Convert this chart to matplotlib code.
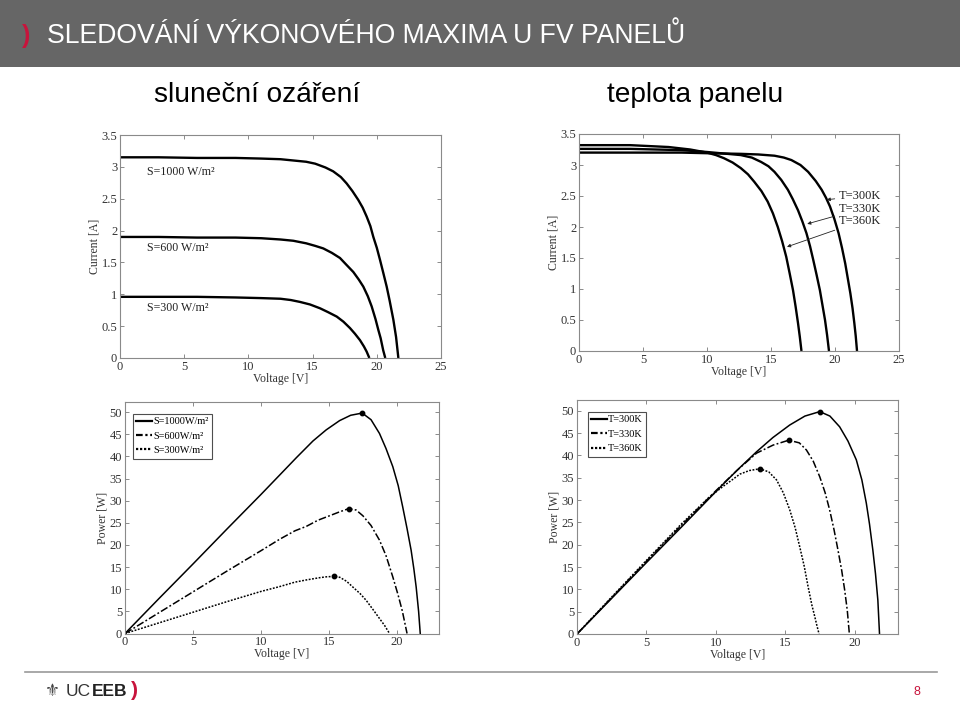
import numpy as np
import matplotlib
matplotlib.use('Agg')
import matplotlib.pyplot as plt
from matplotlib.patches import Rectangle
from matplotlib.lines import Line2D
from matplotlib.ticker import FuncFormatter, MultipleLocator

# ---------------- data ----------------
# I-V curves for different irradiance
V_s1000 = [0, 3, 6, 9, 11, 12.5, 13.5, 14.5, 15.2, 16.0, 16.6, 17.2, 17.65, 18.1, 18.56, 18.9,
           19.21, 19.5, 19.73, 20.0, 20.25, 20.5, 20.77, 21.0, 21.29, 21.5, 21.68]
I_s1000 = [3.15, 3.15, 3.14, 3.14, 3.13, 3.12, 3.10, 3.08, 3.05, 2.99, 2.93, 2.84, 2.74, 2.62, 2.48, 2.36,
           2.22, 2.07, 1.90, 1.73, 1.54, 1.34, 1.12, 0.90, 0.60, 0.33, 0.0]
V_s600 = [0, 3, 6, 9, 11, 12.5, 13.5, 14.5, 15.2, 15.83, 16.5, 17.13, 17.6, 18.17, 18.6, 18.95,
          19.3, 19.6, 19.9, 20.12, 20.3, 20.5, 20.66]
I_s600 = [1.90, 1.90, 1.89, 1.89, 1.88, 1.86, 1.84, 1.80, 1.76, 1.72, 1.65, 1.57, 1.47, 1.35, 1.23, 1.12,
          0.97, 0.81, 0.61, 0.44, 0.31, 0.12, 0.0]
V_s300 = [0, 3, 6, 9, 11, 12.5, 13.3, 14.02, 14.8, 15.58, 16.2, 16.88, 17.4, 17.91, 18.3, 18.69,
          19.0, 19.21, 19.42]
I_s300 = [0.96, 0.96, 0.96, 0.95, 0.94, 0.93, 0.91, 0.88, 0.84, 0.78, 0.72, 0.65, 0.57, 0.47, 0.38, 0.28,
          0.18, 0.10, 0.0]
irr_labels_iv = ['S=1000 W/m²', 'S=600 W/m²', 'S=300 W/m²']
irr_label_pos_V = [2.08, 2.08, 2.08]
irr_label_pos_I = [2.92, 1.72, 0.78]

# I-V curves for different temperature
V_t300 = [0, 4, 8, 10, 12.64, 14, 15.27, 16, 16.59, 17.3, 17.9, 18.5, 18.96, 19.3, 19.61, 19.95,
          20.28, 20.55, 20.8, 21.0, 21.2, 21.37, 21.51, 21.62, 21.72]
I_t300 = [3.20, 3.20, 3.20, 3.19, 3.18, 3.17, 3.15, 3.12, 3.08, 3.00, 2.89, 2.74, 2.60, 2.47, 2.33, 2.13,
          1.90, 1.66, 1.41, 1.17, 0.93, 0.69, 0.45, 0.24, 0.0]
V_t330 = [0, 4, 8, 10, 12.64, 13.5, 14.22, 14.8, 15.27, 15.8, 16.32, 16.7, 17.11, 17.45, 17.77,
          18.05, 18.3, 18.56, 18.82, 19.02, 19.22, 19.38, 19.53]
I_t330 = [3.26, 3.26, 3.24, 3.21, 3.16, 3.12, 3.05, 2.98, 2.89, 2.76, 2.60, 2.45, 2.27, 2.09, 1.90,
          1.69, 1.47, 1.23, 0.98, 0.74, 0.50, 0.26, 0.0]
V_t360 = [0, 4, 7, 8.69, 10, 10.7, 11.32, 12.0, 12.64, 13.2, 13.69, 14.25, 14.74, 15.15, 15.53,
          15.87, 16.19, 16.46, 16.72, 16.92, 17.11, 17.25, 17.38]
I_t360 = [3.32, 3.32, 3.29, 3.25, 3.20, 3.16, 3.11, 3.04, 2.95, 2.85, 2.73, 2.58, 2.41, 2.22, 2.00,
          1.77, 1.52, 1.25, 0.98, 0.72, 0.45, 0.23, 0.0]
temp_labels = ['T=300K', 'T=330K', 'T=360K']
temp_arrow_tip_V = [19.35, 17.83, 16.25]
temp_arrow_tip_I = [2.44, 2.05, 1.68]
temp_text_V = [20.3, 20.3, 20.3]
temp_text_I = [2.50, 2.29, 2.09]

# P-V curves for different irradiance
PV_s1000_V = [0, 2.5, 5, 7.5, 10, 11.38, 12.6, 13.83, 14.8, 15.79, 16.6, 17.45, 18.1, 18.72, 19.2,
              19.7, 20.1, 20.43, 20.75, 21.05, 21.25, 21.42, 21.6, 21.72]
PV_s1000_P = [0, 7.9, 15.7, 23.6, 31.4, 35.8, 39.7, 43.5, 46.0, 48.1, 49.3, 49.8, 48.3, 45.2, 41.8,
              37.7, 33.4, 28.6, 23.7, 18.8, 14.6, 10.5, 5.0, 0.0]
PV_s600_V = [0, 2.5, 5, 7.5, 10, 11.38, 12.5, 13.34, 14.2, 15.05, 15.8, 16.45, 17.0, 17.5, 18.1,
             18.72, 19.2, 19.7, 20.1, 20.4, 20.75]
PV_s600_P = [0, 4.7, 9.4, 14.1, 18.7, 21.3, 23.2, 24.2, 25.6, 26.6, 27.5, 28.2, 27.9, 26.6, 24.4,
             21.1, 17.6, 12.8, 8.6, 5.1, 0.0]
PV_s300_V = [0, 2.5, 5, 7.5, 10, 11.38, 12.5, 13.34, 14.3, 14.8, 15.35, 15.8, 16.3, 16.76, 17.3,
             17.74, 18.2, 18.72, 19.1, 19.46]
PV_s300_P = [0, 2.4, 4.8, 7.2, 9.5, 10.6, 11.6, 12.1, 12.6, 12.8, 12.9, 12.7, 11.8, 10.5, 9.0,
             7.5, 5.6, 3.4, 1.8, 0.0]
irr_labels_pv = ['S=1000W/m²', 'S=600W/m²', 'S=300W/m²']

# P-V curves for different temperature
PV_t300_V = [0, 2.5, 5, 7.5, 10, 10.53, 11.7, 12.92, 14.1, 15.31, 16.4, 17.47, 18.2, 18.9, 19.5,
             20.1, 20.5, 20.82, 21.05, 21.29, 21.48, 21.65, 21.77]
PV_t300_P = [0, 8.0, 16.0, 23.9, 31.9, 33.6, 37.2, 40.8, 44.0, 46.8, 48.8, 49.8, 48.8, 46.4, 43.2,
             39.0, 34.5, 29.3, 24.6, 18.8, 13.5, 7.6, 0.0]
PV_t330_V = [0, 2.5, 5, 7.5, 10, 11.5, 12.92, 14.11, 15.24, 16.0, 16.51, 17.0, 17.47, 17.85, 18.18,
             18.5, 18.78, 19.05, 19.26, 19.45, 19.6]
PV_t330_P = [0, 8.15, 16.3, 24.3, 32.1, 36.6, 40.5, 42.3, 43.4, 42.8, 41.2, 38.7, 35.2, 31.7, 27.8,
             23.3, 18.8, 14.2, 9.9, 5.3, 0.0]
PV_t360_V = [0, 2.5, 5, 7.5, 9.5, 10.53, 11.2, 11.72, 12.4, 13.16, 13.8, 14.36, 14.85, 15.31, 15.7,
             16.03, 16.35, 16.63, 16.9, 17.11, 17.27, 17.42]
PV_t360_P = [0, 8.3, 16.5, 24.6, 30.6, 33.1, 34.6, 35.8, 36.6, 37.0, 36.3, 34.5, 31.6, 27.8, 23.8,
             19.5, 15.2, 10.6, 6.5, 3.9, 1.8, 0.0]

title_text = 'SLEDOVÁNÍ VÝKONOVÉHO MAXIMA U FV PANELŮ'
subtitle_left = 'sluneční ozáření'
subtitle_right = 'teplota panelu'
page_number = '8'

# ---------------- figure ----------------
SERIF = ['Liberation Serif', 'DejaVu Serif']
SANS = ['Liberation Sans', 'DejaVu Sans']
plt.rcParams['font.family'] = SERIF

W, H = 960, 705
fig = plt.figure(figsize=(W / 100, H / 100), dpi=100)
fig.patch.set_facecolor('white')

def px_axes(l, t, r, b):
    return fig.add_axes([l / W, 1 - b / H, (r - l) / W, (b - t) / H])

fmt = FuncFormatter(lambda v, p: f'{v:g}')

def style(ax, xlim, ylim, xstep, ystep, xlabel, ylabel):
    ax.set_xlim(*xlim)
    ax.set_ylim(*ylim)
    ax.xaxis.set_major_locator(MultipleLocator(xstep))
    ax.yaxis.set_major_locator(MultipleLocator(ystep))
    ax.xaxis.set_major_formatter(fmt)
    ax.yaxis.set_major_formatter(fmt)
    ax.tick_params(direction='in', top=True, right=True, length=3, width=0.6,
                   color='#777777', labelsize=9, labelcolor='#333333', pad=2)
    for s in ax.spines.values():
        s.set_color('#8a8a8a')
        s.set_linewidth(0.8)
    ax.set_xlabel(xlabel, fontsize=8.5, color='#333333', labelpad=0)
    ax.set_ylabel(ylabel, fontsize=8.5, color='#333333', labelpad=1)

# header band
fig.patches.append(Rectangle((0, 1 - 67 / H), 1, 67 / H, transform=fig.transFigure,
                             facecolor='#666666', edgecolor='none', zorder=0))
fig.text(22 / W, 1 - 36 / H, ')', color='#c8143c', fontsize=18, fontweight='bold',
         family=SANS, va='center', ha='left')
fig.text(47 / W, 1 - 36 / H, title_text, color='white', fontsize=19.2, family=SANS,
         va='center', ha='left')
fig.text(257 / W, 1 - 95 / H, subtitle_left, color='black', fontsize=20.2, family=SANS,
         va='center', ha='center')
fig.text(695 / W, 1 - 95 / H, subtitle_right, color='black', fontsize=20.2, family=SANS,
         va='center', ha='center')

# footer
fig.add_artist(Line2D([25 / W, 937 / W], [1 - 672 / H, 1 - 672 / H], transform=fig.transFigure,
                      color='#9a9a9a', lw=1.2))
fig.text(45 / W, 1 - 691 / H, '⚜', color='#444444', fontsize=12, family=['DejaVu Sans'],
         va='center', ha='left')
fig.text(66 / W, 1 - 691 / H, 'UC', color='#333333', fontsize=12.5, family=SANS,
         va='center', ha='left')
fig.text(92 / W, 1 - 691 / H, 'EEB', color='#222222', fontsize=12.5, family=SANS,
         fontweight='bold', va='center', ha='left')
fig.text(131 / W, 1 - 691 / H, ')', color='#c8143c', fontsize=15, family=SANS,
         fontweight='bold', va='center', ha='left')
fig.text(917 / W, 1 - 692 / H, page_number, color='#c8143c', fontsize=9, family=SANS,
         va='center', ha='center')

# ---- top-left: I-V, irradiance ----
ax1 = px_axes(120, 135, 441, 358)
for v, i in [(V_s1000, I_s1000), (V_s600, I_s600), (V_s300, I_s300)]:
    ax1.plot(v, i, color='black', lw=1.7, solid_capstyle='butt')
for lab, x, y in zip(irr_labels_iv, irr_label_pos_V, irr_label_pos_I):
    ax1.text(x, y, lab, fontsize=8.6, va='center', ha='left', color='#222222')
style(ax1, (0, 25), (0, 3.5), 5, 0.5, 'Voltage [V]', 'Current [A]')

# ---- top-right: I-V, temperature ----
ax2 = px_axes(579, 134, 899, 351)
for v, i in [(V_t300, I_t300), (V_t330, I_t330), (V_t360, I_t360)]:
    ax2.plot(v, i, color='black', lw=1.7, solid_capstyle='butt')
for lab, tx, ty, ax_, ay in zip(temp_labels, temp_text_V, temp_text_I, temp_arrow_tip_V, temp_arrow_tip_I):
    ax2.annotate(lab, xy=(ax_, ay), xytext=(tx, ty), fontsize=9, va='center', ha='left',
                 color='#222222',
                 arrowprops=dict(arrowstyle='-|>', lw=0.6, color='#222222', shrinkA=1, shrinkB=0,
                                 mutation_scale=5))
style(ax2, (0, 25), (0, 3.5), 5, 0.5, 'Voltage [V]', 'Current [A]')

# linestyles for the power plots
styles = ['-', (0, (5, 1.5, 1.2, 1.5)), (0, (1.2, 1.0))]
legend_styles = ['-', (0, (3, 1.2, 1, 1.2)), (0, (1, 0.8))]

def draw_power(ax, series, labels, anchor):
    handles = []
    for (v, p), ls, lls in zip(series, styles, legend_styles):
        k = int(np.argmax(p))
        ax.plot(v, p, color='black', lw=1.1, linestyle=ls)
        ax.plot([v[k]], [p[k]], marker='o', ms=3.2, color='black', linestyle='none')
        handles.append(Line2D([], [], color='black', lw=1.6, linestyle=lls))
    leg = ax.legend(handles, labels, loc='upper left', bbox_to_anchor=anchor, fontsize=7.4,
                    frameon=True, fancybox=False, edgecolor='#222222', handlelength=1.5,
                    handletextpad=0.15, borderpad=0.35, labelspacing=0.5, borderaxespad=0)
    leg.get_frame().set_linewidth(0.8)

# ---- bottom-left: P-V, irradiance ----
ax3 = px_axes(125, 402, 439, 633.5)
draw_power(ax3, [(PV_s1000_V, PV_s1000_P), (PV_s600_V, PV_s600_P), (PV_s300_V, PV_s300_P)],
           irr_labels_pv, (0.024, 0.95))
style(ax3, (0, 23.1), (0, 52.3), 5, 5, 'Voltage [V]', 'Power [W]')

# ---- bottom-right: P-V, temperature ----
ax4 = px_axes(577, 400, 898, 634)
draw_power(ax4, [(PV_t300_V, PV_t300_P), (PV_t330_V, PV_t330_P), (PV_t360_V, PV_t360_P)],
           temp_labels, (0.033, 0.95))
style(ax4, (0, 23.1), (0, 52.4), 5, 5, 'Voltage [V]', 'Power [W]')

fig.savefig('out.png', dpi=100)
